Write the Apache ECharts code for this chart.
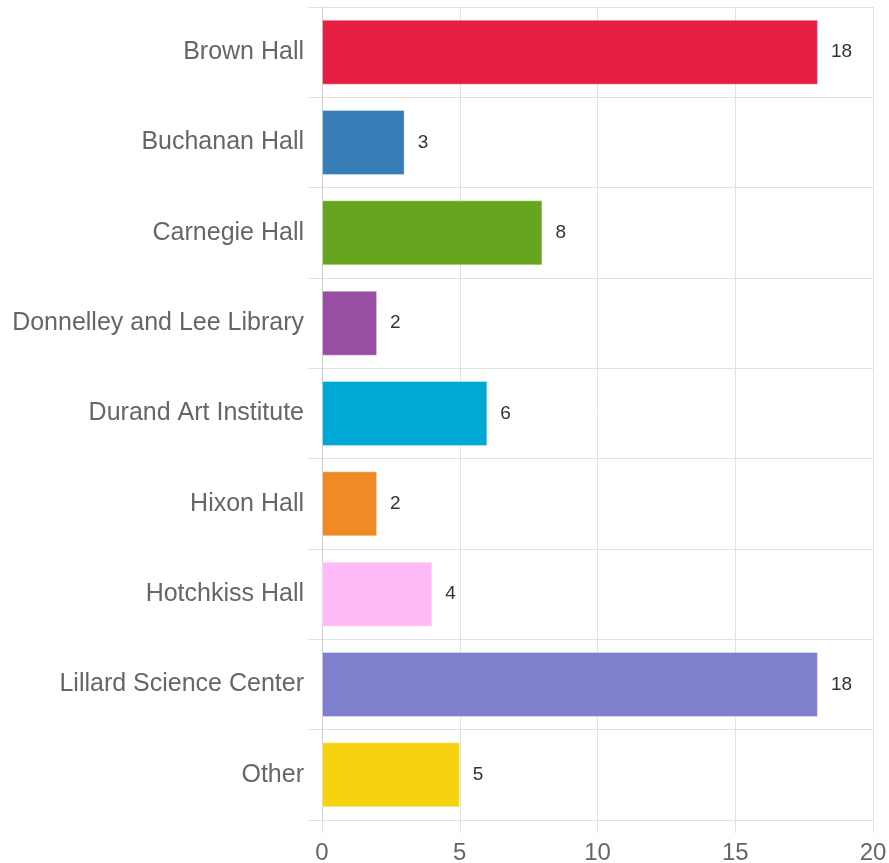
<!DOCTYPE html>
<html>
<head>
<meta charset="utf-8">
<script src="https://cdn.jsdelivr.net/npm/echarts@6/dist/echarts.min.js"></script>
<style>
html,body{margin:0;padding:0;background:#fff;}
#chart{width:889px;height:863px;}
</style>
</head>
<body>
<div id="chart"></div>
<script>
const categories = ["Brown Hall","Buchanan Hall","Carnegie Hall","Donnelley and Lee Library","Durand Art Institute","Hixon Hall","Hotchkiss Hall","Lillard Science Center","Other"];
const values = [18,3,8,2,6,2,4,18,5];
const colors = ["#E61E44","#377EB8","#66A61E","#984EA3","#00A9D4","#F08A24","#FFBAF8","#7F80CD","#F7D30F"];
const xTicks = [0,5,10,15,20];

const chart = echarts.init(document.getElementById('chart'));
const font = "'Liberation Sans', Arial, sans-serif";
chart.setOption({
  animation:false,
  backgroundColor:'#fff',
  grid:{left:322,right:16,top:7,bottom:43,containLabel:false,outerBoundsMode:'none'},
  xAxis:{
    type:'value',min:xTicks[0],max:xTicks[xTicks.length-1],interval:xTicks[1]-xTicks[0],
    axisLine:{show:false},
    axisTick:{show:true,length:13,lineStyle:{color:'#e2e2e2'}},
    splitLine:{show:true,lineStyle:{color:'#e2e2e2',width:1}},
    axisLabel:{fontSize:24,color:'#666',fontFamily:font,margin:21}
  },
  yAxis:{
    type:'category',data:categories,inverse:true,
    axisLine:{show:true,lineStyle:{color:'#cfcfcf'}},
    axisTick:{show:true,length:14,lineStyle:{color:'#e2e2e2'}},
    splitLine:{show:true,lineStyle:{color:'#e2e2e2',width:1}},
    axisLabel:{fontSize:25,color:'#666',fontFamily:font,margin:18}
  },
  series:[{
    type:'bar',
    barCategoryGap:'28%',
    data:values.map((v,i)=>({value:v,itemStyle:{color:colors[i],borderColor:'rgba(255,255,255,0.35)',borderWidth:1}})),
    label:{show:true,position:'right',distance:9,fontSize:19,color:'#333',fontFamily:font,backgroundColor:'#fff',padding:[2,4]}
  }]
});
</script>
</body>
</html>
